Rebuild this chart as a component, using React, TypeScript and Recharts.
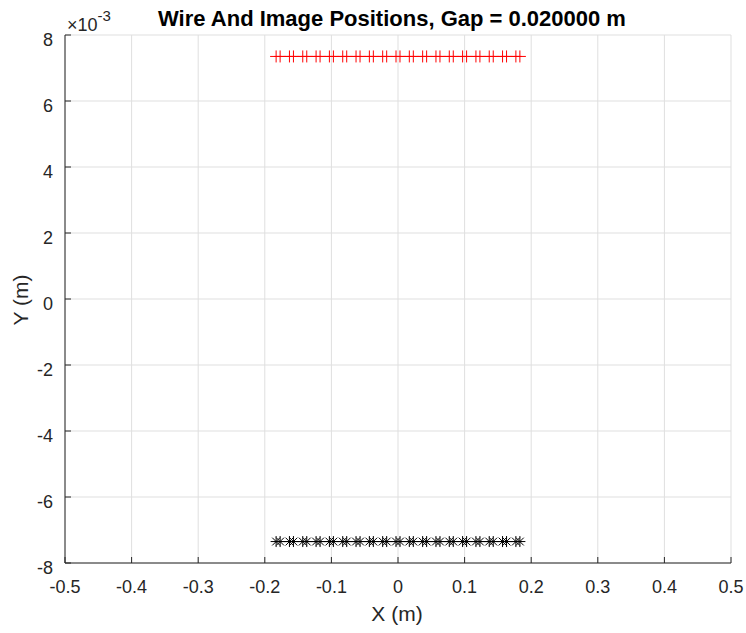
import React from 'react';
import { ScatterChart, Scatter, XAxis, YAxis, CartesianGrid } from 'recharts';

// wire x positions (m); each wire is drawn as a close pair of points
const wireX = [
  -0.183, -0.177, -0.163, -0.157, -0.143, -0.137, -0.123, -0.117, -0.103, -0.097,
  -0.083, -0.077, -0.063, -0.057, -0.043, -0.037, -0.023, -0.017, -0.003, 0.003,
  0.017, 0.023, 0.037, 0.043, 0.057, 0.063, 0.077, 0.083, 0.097, 0.103,
  0.117, 0.123, 0.137, 0.143, 0.157, 0.163, 0.177, 0.183,
];
const wireY = 0.00735;
const imageY = -0.00735;

const xTicks = [-0.5, -0.4, -0.3, -0.2, -0.1, 0, 0.1, 0.2, 0.3, 0.4, 0.5];
const xTickLabels = ['-0.5', '-0.4', '-0.3', '-0.2', '-0.1', '0', '0.1', '0.2', '0.3', '0.4', '0.5'];
const yTicks = [-0.008, -0.006, -0.004, -0.002, 0, 0.002, 0.004, 0.006, 0.008];
const yTickLabels = ['-8', '-6', '-4', '-2', '0', '2', '4', '6', '8'];

const wires = wireX.map((x) => ({ x, y: wireY }));
const images = wireX.map((x) => ({ x, y: imageY }));

const AXIS = '#262626';
const GRID = '#dfdfdf';
const FONT = '"Liberation Sans", Arial, Helvetica, sans-serif';

const XTick = (props: any) => {
  const { x, y, payload } = props;
  const i = xTicks.indexOf(payload.value);
  return (
    <g>
      <line x1={x} x2={x} y1={y} y2={y - 6} stroke={AXIS} />
      <text x={x} y={y + 30} textAnchor="middle" fontSize={18} fill={AXIS} fontFamily={FONT}>
        {xTickLabels[i]}
      </text>
    </g>
  );
};

const YTick = (props: any) => {
  const { x, y, payload } = props;
  const i = yTicks.indexOf(payload.value);
  return (
    <g>
      <line x1={x} x2={x + 6} y1={y} y2={y} stroke={AXIS} />
      <text x={x - 12} y={y + 10.5} textAnchor="end" fontSize={18} fill={AXIS} fontFamily={FONT}>
        {yTickLabels[i]}
      </text>
    </g>
  );
};

const PlusMarker = (props: any) => {
  const { cx, cy } = props;
  const r = 6;
  return (
    <g stroke="#ff0000" strokeWidth={1}>
      <line x1={cx - r} x2={cx + r} y1={cy} y2={cy} />
      <line x1={cx} x2={cx} y1={cy - r} y2={cy + r} />
    </g>
  );
};

const StarMarker = (props: any) => {
  const { cx, cy } = props;
  const r = 5.5;
  const d = r * 0.707;
  return (
    <g stroke="#000000" strokeWidth={1}>
      <line x1={cx - r} x2={cx + r} y1={cy} y2={cy} />
      <line x1={cx} x2={cx} y1={cy - r} y2={cy + r} />
      <line x1={cx - d} x2={cx + d} y1={cy - d} y2={cy + d} />
      <line x1={cx - d} x2={cx + d} y1={cy + d} y2={cy - d} />
    </g>
  );
};

export default function App() {
  return (
    <div style={{ position: 'absolute', left: 0, top: 0, width: 746, height: 633, background: '#fff' }}>
      <ScatterChart width={746} height={633} margin={{ top: 35, right: 15, bottom: 30, left: 0 }}>
        <CartesianGrid stroke={GRID} />
        <XAxis
          type="number"
          dataKey="x"
          domain={[-0.5, 0.5]}
          ticks={xTicks}
          height={40}
          tickSize={0}
          tickMargin={0}
          tick={<XTick />}
          axisLine={{ stroke: AXIS }}
          allowDataOverflow
        />
        <YAxis
          type="number"
          dataKey="y"
          domain={[-0.008, 0.008]}
          ticks={yTicks}
          width={65}
          tickSize={0}
          tickMargin={0}
          tick={<YTick />}
          axisLine={{ stroke: AXIS }}
          allowDataOverflow
        />
        <Scatter
          data={wires}
          line={{ stroke: '#ff0000', strokeWidth: 1 }}
          shape={<PlusMarker />}
          isAnimationActive={false}
        />
        <Scatter
          data={images}
          line={{ stroke: '#000000', strokeWidth: 1 }}
          shape={<StarMarker />}
          isAnimationActive={false}
        />
      </ScatterChart>
      {/* title, axis labels and the y exponent */}
      <svg width={746} height={633} style={{ position: 'absolute', left: 0, top: 0, pointerEvents: 'none' }} fontFamily={FONT}>
        <text x={392} y={26} textAnchor="middle" fontSize={22} fontWeight="bold" fill="#000">
          Wire And Image Positions, Gap = 0.020000 m
        </text>
        <text x={67} y={31} fontSize={18} fill={AXIS}>
          ×10<tspan fontSize={15} dy={-10}>-3</tspan>
        </text>
        <text x={397} y={621} textAnchor="middle" fontSize={21} fill={AXIS}>
          X (m)
        </text>
        <text x={28} y={300} textAnchor="middle" fontSize={21} fill={AXIS} transform="rotate(-90 28 300)">
          Y (m)
        </text>
      </svg>
    </div>
  );
}
